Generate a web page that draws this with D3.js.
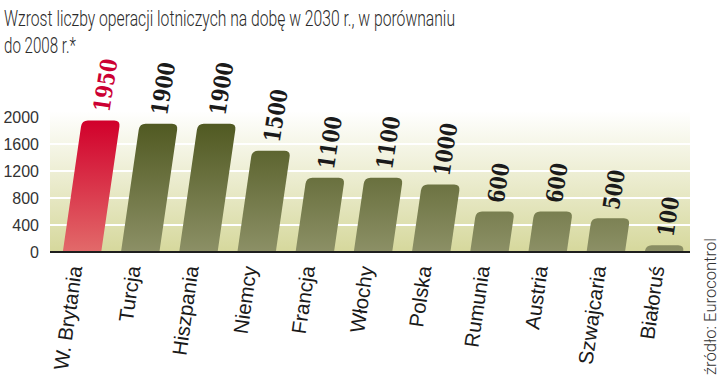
<!DOCTYPE html>
<meta charset="utf-8">
<style>
  body { margin: 0; background: #fff; }
</style>
<svg width="720" height="378"></svg>
<script src="https://d3js.org/d3.v7.min.js"></script>
<script>
// dane
var countries = ['W. Brytania', 'Turcja', 'Hiszpania', 'Niemcy', 'Francja', 'Włochy', 'Polska', 'Rumunia', 'Austria', 'Szwajcaria', 'Białoruś'];
var values = [1950, 1900, 1900, 1500, 1100, 1100, 1000, 600, 600, 500, 100];
var yTicks = [0, 400, 800, 1200, 1600, 2000];
var titleLines = ['Wzrost liczby operacji lotniczych na dobę w 2030 r., w porównaniu', 'do 2008 r.*'];
var source = 'źródło: Eurocontrol';

var svg = d3.select('svg');
var plot = { left: 50, right: 690, top: 117, bottom: 252 };

var x = d3.scaleBand()
    .domain(countries)
    .range([plot.left, 696])
    .paddingInner(0.34)
    .paddingOuter(0.22);
var y = d3.scaleLinear()
    .domain([0, 2000])
    .range([plot.bottom, plot.top]);

var slant = 0.145; // przesunięcie górnej krawędzi słupka

var defs = svg.append('defs');
function grad(id, c1, c2, y1, y2) {
    var g = defs.append('linearGradient').attr('id', id)
        .attr('gradientUnits', 'userSpaceOnUse')
        .attr('x1', 0).attr('x2', 0).attr('y1', y1).attr('y2', y2);
    g.append('stop').attr('offset', 0).attr('stop-color', c1);
    g.append('stop').attr('offset', 1).attr('stop-color', c2);
}
grad('bg', '#ffffff', '#d6d89c', plot.top - 6, plot.bottom);
grad('red', '#d1002b', '#e26a6a', y(1950), plot.bottom);
grad('green', '#4f5820', '#8c9066', y(1950), plot.bottom);

// tytuł
svg.append('g').selectAll('text')
    .data(titleLines)
    .join('text')
    .attr('x', 4)
    .attr('y', function (d, i) { return 26 + i * 27; })
    .attr('font-family', 'Roboto, sans-serif')
    .attr('font-weight', 300)
    .attr('font-size', 22)
    .attr('fill', '#2a2a2a')
    .attr('textLength', function (d, i) { return i === 0 ? 451 : 72; })
    .attr('lengthAdjust', 'spacingAndGlyphs')
    .text(function (d) { return d; });

// tło
svg.append('rect')
    .attr('x', plot.left).attr('y', plot.top - 6)
    .attr('width', plot.right - plot.left)
    .attr('height', plot.bottom - plot.top + 6)
    .attr('fill', 'url(#bg)');

// linie siatki
svg.append('g').selectAll('line')
    .data(yTicks.filter(function (d) { return d > 0 && d < 2000; }))
    .join('line')
    .attr('x1', plot.left).attr('x2', plot.right)
    .attr('y1', function (d) { return y(d); })
    .attr('y2', function (d) { return y(d); })
    .attr('stroke', '#fff')
    .attr('stroke-width', 2);

// oś Y
var yAxis = svg.append('g')
    .attr('transform', 'translate(39,0)')
    .call(d3.axisLeft(y).tickValues(yTicks).tickFormat(d3.format('d')).tickSize(0).tickPadding(0));
yAxis.select('.domain').remove();
yAxis.selectAll('text')
    .attr('font-family', 'Liberation Sans, Arial, sans-serif')
    .attr('font-size', 16)
    .attr('fill', '#333');

// słupki
function barPath(d, i) {
    var x0 = x(countries[i]);
    var w = x.bandwidth();
    var y0 = plot.bottom;
    var y1 = y(d);
    var h = y0 - y1;
    var s = h * slant;
    var r = Math.min(6, h);
    var p = d3.path();
    p.moveTo(x0, y0);
    p.lineTo(x0 + s - s * r / h, y1 + r);
    p.quadraticCurveTo(x0 + s, y1, x0 + s + r, y1);
    p.lineTo(x0 + s + w - r, y1);
    p.quadraticCurveTo(x0 + s + w, y1, x0 + s + w - s * r / h, y1 + r);
    p.lineTo(x0 + w, y0);
    p.closePath();
    return p.toString();
}
svg.append('g').selectAll('path')
    .data(values)
    .join('path')
    .attr('d', barPath)
    .attr('fill', function (d, i) { return i === 0 ? 'url(#red)' : 'url(#green)'; });

// linia bazowa
svg.append('line')
    .attr('x1', plot.left).attr('x2', plot.right)
    .attr('y1', plot.bottom).attr('y2', plot.bottom)
    .attr('stroke', '#1e1e1e')
    .attr('stroke-width', 2);

// etykiety wartości
svg.append('g').selectAll('text')
    .data(values)
    .join('text')
    .attr('transform', function (d, i) {
        var h = plot.bottom - y(d);
        var cx = x(countries[i]) + x.bandwidth() / 2 + h * slant;
        return 'translate(' + cx + ',' + (y(d) - 9) + ') rotate(-81)';
    })
    .attr('dy', '0.36em')
    .attr('font-family', '"DejaVu Serif Condensed", "DejaVu Serif", serif')
    .attr('font-stretch', 'condensed')
    .attr('font-weight', 'bold')
    .attr('font-size', 23)
    .attr('fill', function (d, i) { return i === 0 ? '#cc0033' : '#1a1a1a'; })
    .attr('textLength', function (d) { return String(d).length * 13.3; })
    .attr('lengthAdjust', 'spacingAndGlyphs')
    .text(function (d) { return d; });

// etykiety kategorii
svg.append('g').selectAll('text')
    .data(countries)
    .join('text')
    .attr('transform', function (d) {
        return 'translate(' + (x(d) + x.bandwidth() / 2 - 7) + ',266) rotate(-82)';
    })
    .attr('dy', '0.36em')
    .attr('text-anchor', 'end')
    .attr('font-family', 'Liberation Sans, Arial, sans-serif')
    .attr('font-size', 20.5)
    .attr('fill', '#1a1a1a')
    .text(function (d) { return d; });

// źródło
svg.append('text')
    .attr('transform', 'translate(716,375) rotate(-90)')
    .attr('font-family', 'Roboto, sans-serif')
    .attr('font-weight', 300)
    .attr('font-size', 17)
    .attr('fill', '#333')
    .attr('textLength', 137)
    .attr('lengthAdjust', 'spacingAndGlyphs')
    .text(source);
</script>
